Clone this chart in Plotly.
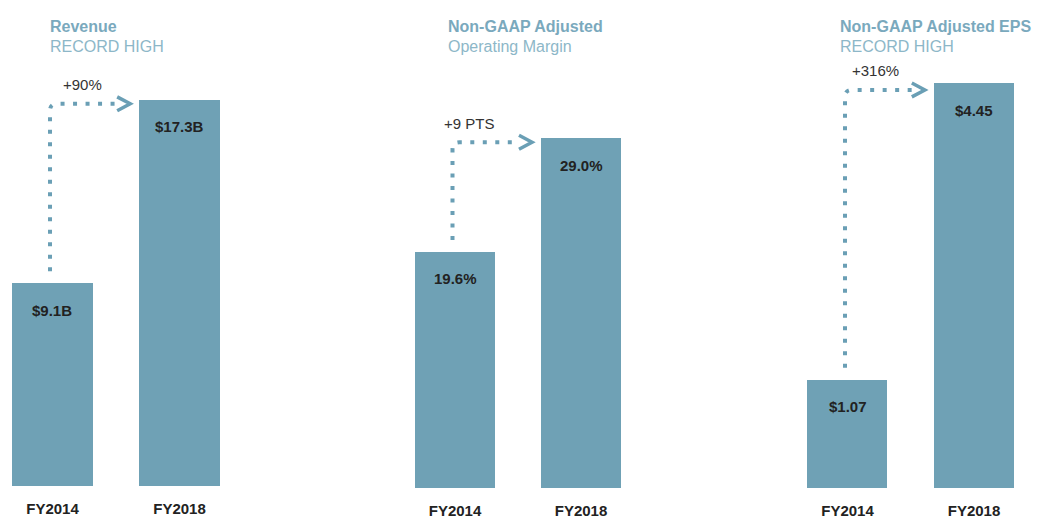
import plotly.graph_objects as go

# ---------------- data ----------------
years = ["FY2014", "FY2018"]

revenue = [9.1, 17.3]
revenue_text = ["$9.1B", "$17.3B"]

op_margin = [19.6, 29.0]
op_margin_text = ["19.6%", "29.0%"]

eps = [1.07, 4.45]
eps_text = ["$1.07", "$4.45"]

titles = ["Revenue", "Non-GAAP Adjusted", "Non-GAAP Adjusted EPS"]
subtitles = ["RECORD HIGH", "Operating Margin", "RECORD HIGH"]
changes = ["+90%", "+9 PTS", "+316%"]

# ---------------- styling / geometry ----------------
W, H = 1044, 519
BAR = "#6fa1b5"
ACCENT = "#6a9fb5"
TITLE = "#7aa9bd"
DARK = "#222222"
FONT = "Liberation Sans, Arial, sans-serif"

# per panel: bar1 centre px, bar spacing px, x range, baseline px, y floor, px per unit
panels = [
    dict(c0=52.5, step=127.0, xr=[-0.4, 1.5], base=492, floor=0.0, ppu=22.6,
         title_x=48, label_dx=32, gap=4),
    dict(c0=455.0, step=126.0, xr=[-0.5, 1.5], base=494, floor=0.0, ppu=12.21,
         title_x=446, label_dx=16, gap=4),
    dict(c0=847.5, step=126.5, xr=[-0.5, 1.5], base=494, floor=-0.169, ppu=88.76,
         title_x=838, label_dx=30, gap=7),
]
series = [
    (revenue, revenue_text),
    (op_margin, op_margin_text),
    (eps, eps_text),
]

fig = go.Figure()

for i, (p, (vals, texts)) in enumerate(zip(panels, series)):
    n = "" if i == 0 else str(i + 1)
    xa, ya = "x" + n, "y" + n

    # ---- bars ----
    fig.add_trace(go.Bar(
        x=[0, 1],
        y=[v - p["floor"] for v in vals],
        base=p["floor"],
        width=0.635,
        marker=dict(color=BAR, line=dict(width=0)),
        xaxis=xa, yaxis=ya,
        hovertext=texts, hoverinfo="text",
        showlegend=False,
    ))

    # ---- axes ----
    x_left = p["c0"] + p["xr"][0] * p["step"]
    x_right = p["c0"] + p["xr"][1] * p["step"]
    y_top = p["floor"] + p["base"] / p["ppu"]
    fig.update_layout({
        "xaxis" + n: dict(
            domain=[x_left / W, x_right / W], range=p["xr"],
            anchor=ya, tickvals=[0, 1], ticktext=years,
            ticks="outside", ticklen=9, tickcolor="rgba(0,0,0,0)",
            showline=False, showgrid=False, zeroline=False, fixedrange=True,
            tickfont=dict(family=FONT, size=15, color=DARK, weight="bold"),
        ),
        "yaxis" + n: dict(
            domain=[(H - p["base"]) / H, 1], range=[p["floor"], y_top],
            anchor=xa, visible=False, showgrid=False, fixedrange=True,
        ),
    })

    # ---- value labels inside bars ----
    for k in range(2):
        fig.add_annotation(
            x=k, y=vals[k], xref=xa, yref=ya, text="<b>" + texts[k] + "</b>",
            showarrow=False, yanchor="middle", yshift=-27,
            font=dict(family=FONT, size=15, color=DARK),
        )

    # ---- dotted growth arrow ----
    dx = 1.0 / p["step"]      # data units per px on x
    dy = 1.0 / p["ppu"]       # data units per px on y
    xv = 0 - 2.5 * dx
    y_start = vals[0] + 12 * dy
    y_line = vals[1] - p["gap"] * dy
    tip = 1 - 0.3175 - 9 * dx
    r = 7
    path = (f"M {xv},{y_start} L {xv},{y_line - r * dy} "
            f"Q {xv},{y_line} {xv + r * dx},{y_line} L {tip - 12 * dx},{y_line}")
    fig.add_shape(type="path", path=path, xref=xa, yref=ya,
                  line=dict(color=ACCENT, width=4, dash="4px,8.5px"))
    chev = (f"M {tip - 13 * dx},{y_line + 7 * dy} L {tip},{y_line} "
            f"L {tip - 13 * dx},{y_line - 7 * dy}")
    fig.add_shape(type="path", path=chev, xref=xa, yref=ya,
                  line=dict(color=ACCENT, width=3.5))

    fig.add_annotation(
        x=xv, y=y_line, xref=xa, yref=ya, text=changes[i],
        showarrow=False, xshift=p["label_dx"], yshift=19,
        font=dict(family=FONT, size=15, color="#333333"),
    )

    # ---- titles ----
    fig.add_annotation(
        x=p["title_x"] / W, y=1 - 27 / H, xref="paper", yref="paper",
        text="<b>" + titles[i] + "</b>", showarrow=False,
        xanchor="left", yanchor="middle",
        font=dict(family=FONT, size=16, color=TITLE),
    )
    fig.add_annotation(
        x=p["title_x"] / W, y=1 - 47 / H, xref="paper", yref="paper",
        text=subtitles[i], showarrow=False,
        xanchor="left", yanchor="middle",
        font=dict(family=FONT, size=16, color="#8db7c8"),
    )

fig.update_layout(
    width=W, height=H,
    margin=dict(l=0, r=0, t=0, b=0),
    plot_bgcolor="white", paper_bgcolor="white",
    bargap=0, showlegend=False,
)

fig.write_html(
    "out.html",
    config={"displayModeBar": False},
    post_script="document.body.style.margin='0';document.body.style.overflow='hidden';",
)
